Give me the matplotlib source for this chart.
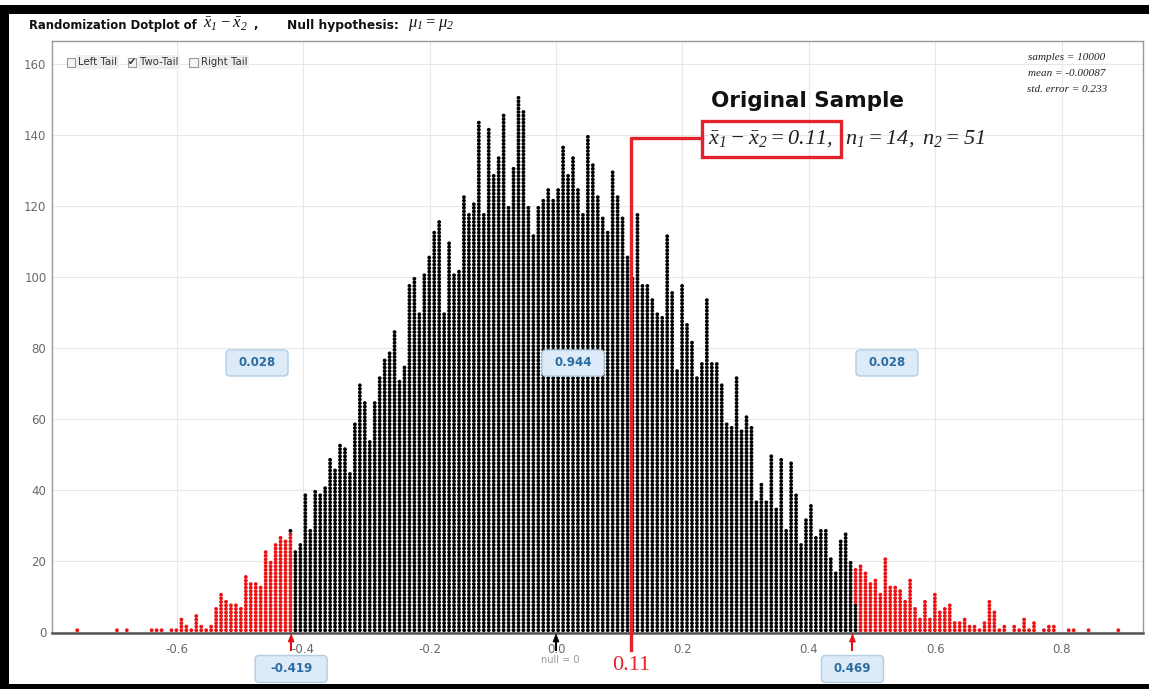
"""
Randomization dotplot of x̄1 - x̄2 (two-tail test), StatKey style.
"""
import matplotlib.pyplot as plt
from matplotlib.patches import Rectangle, FancyBboxPatch, Polygon
from matplotlib.lines import Line2D
from matplotlib.transforms import Affine2D

plt.rcParams.update({
    'font.family': 'DejaVu Sans',
    'mathtext.fontset': 'custom',
    'mathtext.rm': 'Liberation Serif:italic',
    'mathtext.it': 'Liberation Serif:italic',
    'mathtext.bf': 'Liberation Serif:bold:italic',
    'axes.unicode_minus': False,
})

W, H = 1149, 689

# ── data: dots per column, left to right ──
counts = [
    1, 0, 0, 0, 0, 0, 0, 0, 1, 0,
    1, 0, 0, 0, 0, 1, 1, 1, 0, 1,
    1, 4, 2, 1, 5, 2, 1, 2, 7, 11,
    9, 8, 8, 7, 16, 14, 14, 13, 23, 20,
    25, 27, 26, 29, 23, 25, 39, 29, 40, 39,
    41, 49, 46, 53, 52, 45, 59, 70, 65, 54,
    65, 72, 77, 79, 85, 71, 75, 98, 100, 90,
    101, 106, 113, 116, 90, 110, 101, 102, 123, 118,
    121, 144, 118, 142, 129, 134, 146, 120, 131, 151,
    147, 120, 112, 120, 122, 125, 122, 125, 137, 129,
    134, 125, 118, 140, 132, 123, 117, 113, 130, 123,
    117, 106, 100, 118, 98, 98, 94, 90, 89, 112,
    96, 74, 98, 87, 82, 72, 76, 94, 76, 76,
    70, 59, 58, 72, 57, 61, 58, 37, 42, 37,
    50, 35, 49, 29, 48, 39, 25, 32, 36, 27,
    29, 29, 21, 17, 26, 28, 20, 18, 19, 17,
    14, 15, 11, 21, 13, 13, 12, 9, 15, 7,
    4, 9, 4, 11, 6, 7, 8, 3, 3, 4,
    2, 2, 1, 3, 9, 6, 1, 2, 0, 2,
    1, 4, 1, 3, 0, 1, 2, 2, 0, 0,
    1, 1, 0, 0, 1, 0, 0, 0, 0, 0, 1,
]
bin_start = -0.7573
bin_width = 0.007842
left_cut, right_cut = -0.419, 0.469
split_red = {43: 28, 157: 10}      # columns that straddle a cut: red dots in them
props = ['0.028', '0.944', '0.028']
n_samples, mean_stat, std_err = 10000, -0.00087, 0.233
n1, n2 = 14, 51
x_ticks = [-0.6, -0.4, -0.2, 0.0, 0.2, 0.4, 0.6, 0.8]
y_ticks = [0, 20, 40, 60, 80, 100, 120, 140, 160]

RED = '#e3232c'
DOT_RED = '#ee1111'

fig = plt.figure(figsize=(W / 100, H / 100), dpi=100)
pix = Affine2D().scale(1, -1).translate(0, H)   # reference pixel coords

ax_l, ax_r, ax_t, ax_b = 52, 1143, 41, 633
ax = fig.add_axes([ax_l / W, 1 - ax_b / H, (ax_r - ax_l) / W, (ax_b - ax_t) / H])
xmin, xmax = -0.7973, 0.9286
ax.set_xlim(xmin, xmax)
ax.set_ylim(-0.28, 166.5)

# ── dots ──
xs, ys, cs = [], [], []
for i, n in enumerate(counts):
    x = bin_start + i * bin_width
    for k in range(n):
        if i in split_red:
            r = split_red[i]
            red = (k < r) if x < 0 else (k >= n - r)
        else:
            red = x <= left_cut or x >= right_cut
        xs.append(x)
        ys.append(k + 0.5)
        cs.append(DOT_RED if red else 'black')
ax.scatter(xs, ys, s=7.5, c=cs, linewidths=0, zorder=3)

# ── axes styling ──
ax.set_xticks(x_ticks)
ax.set_xticklabels([f'{t:.1f}' for t in x_ticks])
ax.set_yticks(y_ticks)
ax.tick_params(length=0, labelsize=8.5, labelcolor='#6a6a6a')
ax.tick_params(axis='x', pad=7)
ax.tick_params(axis='y', pad=4)
ax.grid(color='#e8e8e8', lw=0.8)
ax.set_axisbelow(True)
for s in ['left', 'top', 'right']:
    ax.spines[s].set_color('#999')
    ax.spines[s].set_linewidth(1)
ax.spines['bottom'].set_color('#555')
ax.spines['bottom'].set_linewidth(1.8)


def px_of(x):
    return ax_l + (x - xmin) / (xmax - xmin) * (ax_r - ax_l)


def label_box(cx, cy, txt, w=62, h=26):
    fig.add_artist(FancyBboxPatch((cx - w / 2, cy - h / 2), w, h,
                                  boxstyle='round,pad=0,rounding_size=4',
                                  fc='#dcebf7', ec='#b3cde3', lw=1,
                                  transform=pix, zorder=5))
    fig.text(cx, cy, txt, transform=pix, ha='center', va='center',
             fontsize=8.5, fontweight='bold', color='#2c6ca3', zorder=6)


def arrow_mark(x, color):
    fig.add_artist(Polygon([(x - 3, 642), (x, 634), (x + 3, 642)], closed=True,
                           fc=color, ec=color, lw=0.5, transform=pix, zorder=6))
    fig.add_artist(Line2D([x, x], [641, 650], color=color, lw=1.5,
                          transform=pix, zorder=6))


# proportion boxes
for cx, p in zip([257, 573, 887], props):
    label_box(cx, 363, p)

# cut-off markers and boxes
arrow_mark(px_of(left_cut), '#e01010')
arrow_mark(px_of(right_cut), '#e01010')
label_box(px_of(left_cut), 669, f'{left_cut:.3f}', w=72, h=27)
label_box(px_of(right_cut), 669, f'{right_cut:.3f}', w=62, h=27)

# null marker
arrow_mark(px_of(0.0), 'black')
fig.text(560, 660, 'null = 0', transform=pix, ha='center', va='center',
         fontsize=7, color='#999')

# ── title (text and math pieces) ──
title_kw = dict(transform=pix, ha='left', va='center', color='#111')
fig.text(29, 25, 'Randomization Dotplot of', fontsize=8.4, fontweight='bold',
         **title_kw)
fig.text(203, 24, r'$\bar{x}_1 - \bar{x}_2$', fontsize=12, **title_kw)
fig.text(253, 25, ',', fontsize=8.4, fontweight='bold', **title_kw)
fig.text(287, 25, 'Null hypothesis:', fontsize=8.8, fontweight='bold', **title_kw)
fig.text(408, 24, r'$\mu_1 = \mu_2$', fontsize=12, **title_kw)

# ── tail checkboxes ──
for bx, tx, lab, checked in [(66.5, 78, 'Left Tail', False),
                             (127.5, 140, 'Two-Tail', True),
                             (189, 201, 'Right Tail', False)]:
    fig.add_artist(Rectangle((bx, 58), 8.5, 8.5, fc='#f4f4f4', ec='#999', lw=0.8,
                             transform=pix, zorder=5))
    if checked:
        fig.text(bx + 4.3, 62, '\u2714', transform=pix, ha='center', va='center',
                 fontsize=7, color='#333', zorder=6)
    fig.text(tx, 62, lab, transform=pix, ha='left', va='center', fontsize=7.3,
             color='#333', zorder=6,
             bbox=dict(boxstyle='square,pad=0.15', fc='#eeeeee', ec='none'))

# ── summary stats ──
for y, s in [(57, f'samples = {n_samples}'), (73, f'mean = {mean_stat}'),
             (89.5, f'std. error = {std_err}')]:
    fig.text(1067, y, s, transform=pix, ha='center', va='center', fontsize=8,
             family='Liberation Serif', style='italic', color='#222')

# ── original sample annotation ──
fig.text(711, 101, 'Original Sample', transform=pix, ha='left', va='center',
         fontsize=15.5, fontweight='bold', color='#111')
fig.text(708, 139, r'$\bar{x}_1 - \bar{x}_2 = 0.11,$', transform=pix,
         ha='left', va='center', fontsize=16, color='#222')
fig.text(845, 139, rf'$n_1 = {n1},\ n_2 = {n2}$', transform=pix,
         ha='left', va='center', fontsize=16, color='#222')
fig.add_artist(Rectangle((702, 121), 139, 36, fc='none', ec=RED, lw=2.4,
                         transform=pix, zorder=7))
fig.add_artist(Line2D([702, 631, 631], [138, 138, 650], color=RED, lw=2.4,
                      transform=pix, zorder=7))
fig.text(631, 666, '0.11', transform=pix, ha='center', va='center', fontsize=16,
         family='Liberation Serif', color=RED)

# ── black frame of the screenshot ──
for r in [(0, 5, W, 9), (0, 5, 9, H), (0, 684, W, 5)]:
    fig.add_artist(Rectangle((r[0], r[1]), r[2], r[3], fc='black', ec='none',
                             transform=pix, zorder=10))

fig.savefig('out.png', dpi=100)
